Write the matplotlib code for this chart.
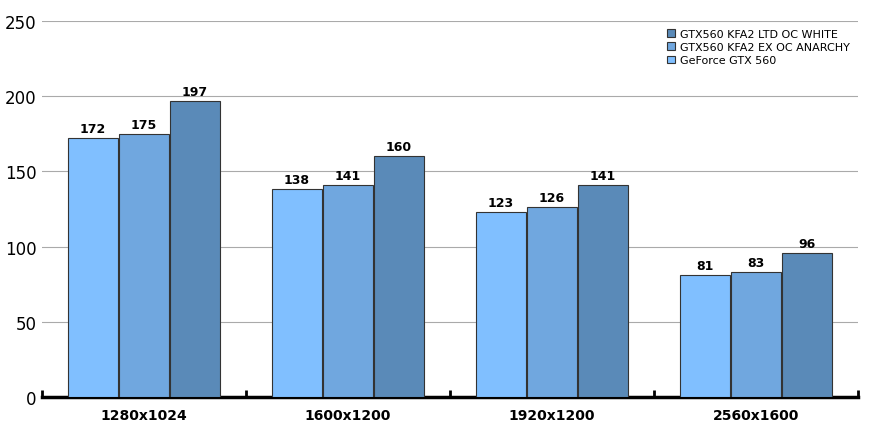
import matplotlib
matplotlib.use("Agg")
import matplotlib.pyplot as plt
import numpy as np

categories = ["1280x1024", "1600x1200", "1920x1200", "2560x1600"]
series_names = ["GeForce GTX 560", "GTX560 KFA2 EX OC ANARCHY", "GTX560 KFA2 LTD OC WHITE"]
values = [
    [172, 138, 123, 81],
    [175, 141, 126, 83],
    [197, 160, 141, 96],
]
colors = ["#80BFFF", "#70A7DF", "#5A8AB8"]

fig = plt.figure(figsize=(8.71, 4.35), dpi=100)
ax = fig.add_axes([42/871, 1-398/435, 816/871, 376/435])
x = np.arange(len(categories))
w = 0.245
offs = [-0.25, 0, 0.25]
handles = []
for i, (vals, c) in enumerate(zip(values, colors)):
    b = ax.bar(x + offs[i], vals, w, color=c, edgecolor="#333333", linewidth=0.8, zorder=3, label=series_names[i])
    handles.append(b)
    for xi, v in zip(x + offs[i], vals):
        ax.text(xi, v + 2, str(v), ha="center", va="bottom", fontsize=9, fontweight="bold", zorder=4)

ax.set_xlim(-0.5, 3.5)
ax.set_ylim(0, 250)
ax.set_yticks(range(0, 251, 50))
ax.yaxis.grid(True, color="#AAAAAA", linewidth=0.8, zorder=0)
ax.tick_params(axis="y", length=0, labelsize=12, pad=4)
ax.set_xticks(x)
ax.set_xticklabels(categories, fontsize=10, fontweight="bold")
ax.tick_params(axis="x", length=0, pad=8)
ax.set_xticks(np.arange(-0.5, 3.6, 1), minor=True)
ax.tick_params(axis="x", which="minor", length=5, width=2, direction="in", bottom=True)
for s in ["top", "right", "left"]:
    ax.spines[s].set_visible(False)
ax.spines["bottom"].set_linewidth(2.5)

leg = ax.legend(handles[::-1], series_names[::-1], loc="upper right", bbox_to_anchor=(1.0, 1.0),
                frameon=False, fontsize=8, handlelength=0.7, handleheight=0.7, borderaxespad=0.3,
                labelspacing=0.3, handletextpad=0.5)
fig.savefig("out.png", dpi=100)
